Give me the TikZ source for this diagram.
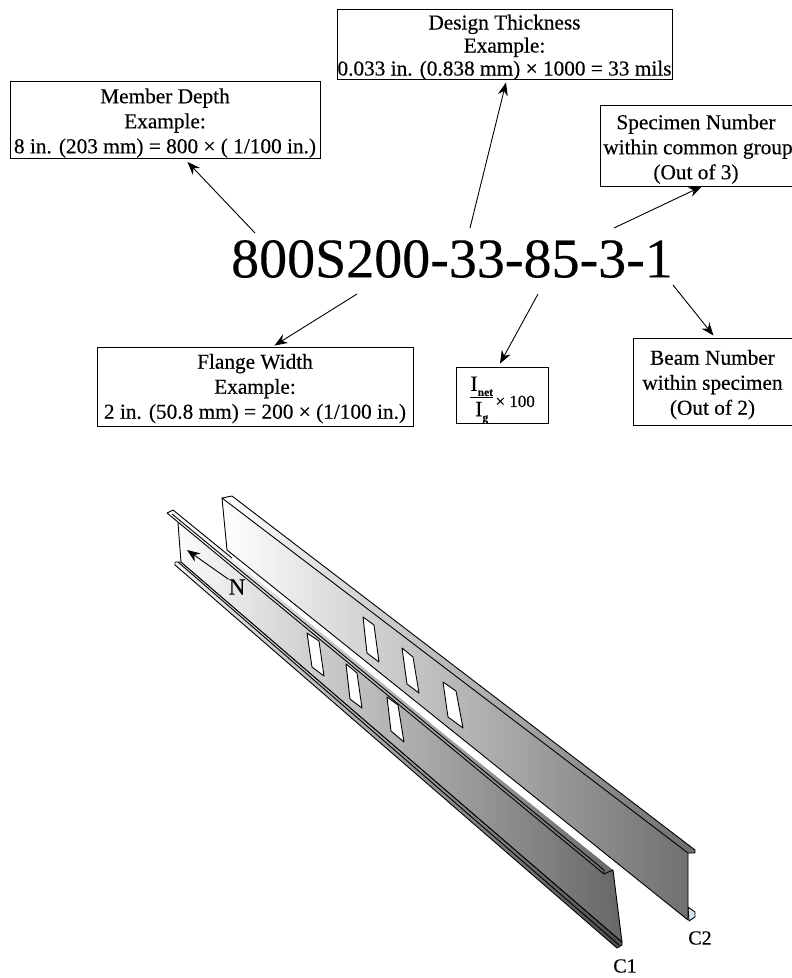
\documentclass[tikz,border=0pt]{standalone}
\usepackage{fontspec}
\setmainfont{Liberation Serif}[FakeBold=0.3]
\usetikzlibrary{arrows.meta,positioning,calc}
\definecolor{c2tint}{RGB}{214,226,236}
\newcommand{\drop}[1]{\rule{0pt}{#1}}
\newcommand{\ratiopart}[2]{\smash{\raisebox{#1}{\fontsize{22}{22}\selectfont I\raisebox{-5pt}{\fontsize{11.5}{12}\selectfont\bfseries #2}}}}
\newcommand{\ratiotext}{\raisebox{4pt}{$\displaystyle\frac{\ratiopart{-3pt}{net}\vphantom{I}}{\ratiopart{0pt}{g}\vphantom{I}}$}\hspace{-3pt}\raisebox{-1pt}{\fontsize{17}{17}\selectfont{} × 100}}

\begin{document}
\begin{tikzpicture}[
  x=1pt, y=-1pt,
  box/.style={draw, align=center, font=\fontsize{21.3}{25}\selectfont, line width=0.9pt,
              inner sep=0pt, fill=white},
  code/.style={font=\fontsize{56}{60}\selectfont, inner sep=0pt},
  lbl/.style={font=\fontsize{20}{22}\selectfont, inner sep=0pt},
  pointer/.style={-{Stealth[length=13pt,width=10pt]}, line width=0.9pt},
  c2web/.style={left color=white, right color=black!57},
  c1web/.style={left color=white, right color=black!60},
  hole/.style={draw, fill=white, line width=0.9pt, line join=round},
  edge/.style={line width=0.9pt, line join=round}
]
\useasboundingbox (0,0) rectangle (792,978);

\node[code] (mark) at (452,259) {800S200-33-85-3-1};

\node[box, minimum width=310pt, minimum height=77pt] (depth) at (165,120) {\drop{21pt}Member Depth\\Example:\\8 in. (203 mm) = 800 × ( 1/100 in.)};
\node[box, minimum width=335pt, minimum height=70pt, font=\fontsize{21.3}{23}\selectfont] (thick) at (504.5,44) {\drop{17pt}Design Thickness\\Example:\\\smash{0.033 in. (0.838 mm) × 1000 = 33 mils}};
\node[box, minimum width=192pt, minimum height=81pt] (spec) at (696,145.5) {\drop{22pt}Specimen Number\\\makebox[186pt][c]{\hspace{4pt}within common group}\\(Out of 3)};
\node[box, minimum width=316pt, minimum height=79pt] (flange) at (255,386.5) {\drop{19pt}Flange Width\\Example:\\2 in. (50.8 mm) = 200 × (1/100 in.)};
\node[box, minimum width=92pt, minimum height=56pt] (ratio) at (502,395) {\ratiotext};
\node[box, minimum width=159pt, minimum height=87pt] (beam) at (712.5,381.5) {\drop{21pt}Beam Number\\within specimen\\(Out of 2)};

\coordinate (fromdepth) at (255,233);
\coordinate (fromthick) at (470,228);
\coordinate (fromspec) at (614,228);
\coordinate (frombeam) at (673,285);
\coordinate (fromratio) at (538,294);
\coordinate (fromflange) at (357,294);

\draw[pointer] (fromdepth) -- ($(depth.-60)+(0,3)$);
\draw[pointer] (fromthick) -- ($(thick.south)+(1.5,3)$);
\draw[pointer] (fromspec) -- (spec.-82);
\draw[pointer] (frombeam) -- ($(beam.north)+(1,-2)$);
\draw[pointer] (fromratio) -- ($(ratio.north)+(-2,-3)$);
\draw[pointer] (fromflange) -- ($(flange.64)+(0,-1)$);

\path[edge, draw, fill=c2tint] (688,907) -- (695,912) -- (695,917) -- (689,921) -- cycle;
\path[c2web, edge, draw] (222,498) -- (232,496) -- (695,850) -- (695,853) -- (688,853) -- (688,920) -- (227,550) -- cycle;
\draw[edge] (222,498) -- (688,853);
\draw[hole] (363,617) -- (374,625) -- (379,662) -- (367,653) -- cycle;
\draw[hole] (402,648) -- (413,657) -- (419,693) -- (407,684) -- cycle;
\draw[hole] (443,682) -- (456,691) -- (463,728) -- (448,717) -- cycle;

\path[edge, draw, left color=black!5, right color=black!70] (175,562) -- (181,562) -- (622,942) -- (622,945) -- (617,948) -- (175,565) -- cycle;
\path[c1web] (167,513) -- (173,510) -- (440,731) -- (613,870) -- (622,942) -- (181,562) -- (178,523) -- cycle;
\draw[edge] (167,513) -- (173,510) -- (232,558);
\draw[edge] (167,513) -- (604,874) -- (613,870) -- (622,942);
\draw[edge] (178,523) -- (181,562) -- (622,942);
\draw[edge] (172,514) -- (604,870) -- (604,874);
\draw[edge] (178,562) -- (619,945);
\draw[hole] (307,633) -- (319,641) -- (324,676) -- (312,667) -- cycle;
\draw[hole] (346,664) -- (357,673) -- (362,708) -- (350,699) -- cycle;
\draw[hole] (387,697) -- (398,705) -- (404,742) -- (391,731) -- cycle;

\node[lbl, font=\fontsize{23}{24}\selectfont] (north) at (237,587) {N};
\coordinate (northtip) at (187,550);
\draw[pointer] (north.north west) -- (northtip);

\node[lbl] (cone) at (625,966) {C1};
\node[lbl] (ctwo) at (700,938) {C2};
\end{tikzpicture}
\end{document}
